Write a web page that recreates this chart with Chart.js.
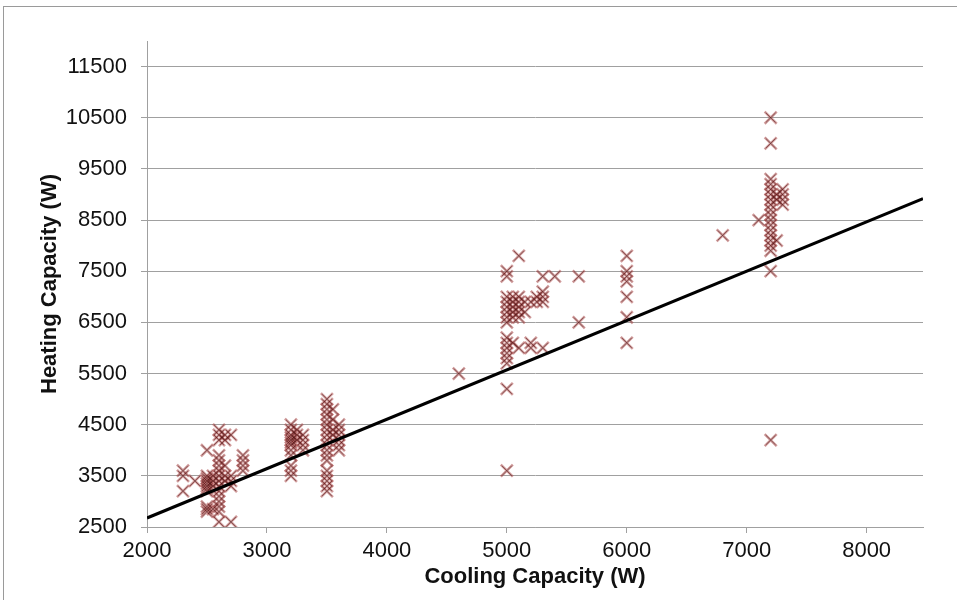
<!DOCTYPE html>
<html lang="en">
<head>
<meta charset="UTF-8">
<title>Heating vs Cooling Capacity</title>
<script src="https://cdn.jsdelivr.net/npm/chart.js"></script>
<style>
  html, body { margin: 0; padding: 0; background: #fff; overflow: hidden; }
  #frame { position: absolute; left: 3px; top: 6px; width: 1200px; height: 900px; border: 1px solid #9a9a9a; }
  #wrap { position: absolute; left: 0; top: 0; width: 957px; height: 600px; }
</style>
</head>
<body>
<div id="frame"></div>
<div id="wrap"><canvas id="chart" width="957" height="600"></canvas></div>
<script>
// cooling capacity (W) of each group of units, and the heating capacities (W) seen at it
const coolingW = [2300, 2400, 2500, 2550, 2600, 2650, 2700, 2800,
                  3200, 3250, 3300, 3500, 3550, 3600, 4600,
                  5000, 5050, 5100, 5150, 5200, 5250, 5300, 5400, 5600, 6000,
                  6800, 7100, 7200, 7250, 7300];
const heatingW = [
  [3600, 3500, 3200],
  [3400],
  [4000, 3500, 3450, 3400, 3350, 3300, 3250, 3200, 2900, 2850, 2800],
  [3500, 3400, 3300, 2850],
  [4400, 4300, 4200, 3900, 3800, 3700, 3600, 3500, 3400, 3300, 3200, 3100, 3000, 2900, 2800, 2600],
  [4300, 4200, 3700, 3500, 3400],
  [4300, 3500, 3400, 3300, 2600],
  [3900, 3800, 3700, 3600],
  [4500, 4400, 4300, 4250, 4200, 4150, 4100, 4000, 3900, 3700, 3600, 3500],
  [4400, 4300, 4200],
  [4300, 4200, 4100, 4000],
  [5000, 4900, 4800, 4700, 4600, 4500, 4400, 4300, 4200, 4100, 4000, 3900, 3800, 3600, 3500, 3400, 3300, 3200],
  [4800, 4600, 4400, 4300],
  [4500, 4400, 4300, 4200, 4100, 4000],
  [5500],
  [7500, 7400, 7000, 6900, 6800, 6700, 6600, 6500, 6200, 6100, 6000, 5900, 5800, 5700, 5200, 3600],
  [7000, 6900, 6800, 6700, 6600, 6100],
  [7800, 7000, 6900, 6800, 6700, 6600, 6000],
  [6900, 6700],
  [6900, 6100, 6000],
  [7000, 6900],
  [7400, 7100, 7000, 6900, 6000],
  [7400],
  [7400, 6500],
  [7800, 7500, 7400, 7300, 7000, 6600, 6100],
  [8200],
  [8500],
  [10500, 10000, 9300, 9200, 9100, 9000, 8900, 8800, 8700, 8600, 8500, 8400, 8300, 8200, 8100, 8000, 7900, 7500, 4200],
  [9000, 8900, 8100],
  [9100, 9000, 8900, 8800]
];
// linear trend line end points
const trendX = [2000, 8470];
const trendY = [2676, 8920];
const xTicks = [2000, 3000, 4000, 5000, 6000, 7000, 8000];
const yTicks = [2500, 3500, 4500, 5500, 6500, 7500, 8500, 9500, 10500, 11500];

const points = [];
coolingW.forEach((c, i) => heatingW[i].forEach(h => points.push({ x: c, y: h })));
const trend = trendX.map((x, i) => ({ x: x, y: trendY[i] }));

const tickFont = { family: 'Liberation Sans, Arial, sans-serif', size: 22 };
const titleFont = { family: 'Liberation Sans, Arial, sans-serif', size: 22, weight: 'bold' };
const plain = v => String(v);

new Chart(document.getElementById('chart'), {
  type: 'scatter',
  data: {
    datasets: [{
      type: 'line',
      data: trend,
      borderColor: '#000',
      borderWidth: 3,
      pointRadius: 0,
      order: 0
    }, {
      // thin dark core of each marker
      data: points,
      pointStyle: 'crossRot',
      pointRadius: 7,
      pointBorderWidth: 1,
      pointBorderColor: 'rgba(60, 10, 10, 0.5)',
      pointBackgroundColor: 'rgba(0,0,0,0)',
      order: 1
    }, {
      data: points,
      pointStyle: 'crossRot',
      pointRadius: 8.5,
      pointBorderWidth: 2.5,
      pointBorderColor: 'rgba(175, 85, 85, 0.6)',
      pointBackgroundColor: 'rgba(0,0,0,0)',
      order: 2
    }]
  },
  options: {
    responsive: false,
    animation: false,
    layout: { padding: { left: 0, top: 41, right: 34, bottom: 0 } },
    plugins: { legend: { display: false }, tooltip: { enabled: false } },
    scales: {
      x: {
        type: 'linear',
        min: 2000,
        max: 8470,
        afterBuildTicks: s => { s.ticks = xTicks.map(v => ({ value: v })); },
        afterFit: s => { s.height = 73; },
        grid: { drawOnChartArea: false, drawTicks: true, tickLength: 6, color: '#a0a0a0' },
        border: { color: '#a0a0a0' },
        ticks: { font: tickFont, color: '#111', padding: 5, maxRotation: 0, autoSkip: false, callback: plain },
        title: { display: true, text: 'Cooling Capacity (W)', font: titleFont, color: '#111', padding: { top: 0, bottom: 10 } }
      },
      y: {
        type: 'linear',
        min: 2500,
        max: 12000,
        afterBuildTicks: s => { s.ticks = yTicks.map(v => ({ value: v })); },
        afterFit: s => { s.width = 147; },
        grid: { color: '#a0a0a0', tickLength: 6 },
        border: { color: '#a0a0a0' },
        ticks: { font: tickFont, color: '#111', padding: 14, callback: plain },
        title: { display: true, text: 'Heating Capacity (W)', font: titleFont, color: '#111', padding: { top: 37, bottom: 0 } }
      }
    }
  }
});
</script>
</body>
</html>
